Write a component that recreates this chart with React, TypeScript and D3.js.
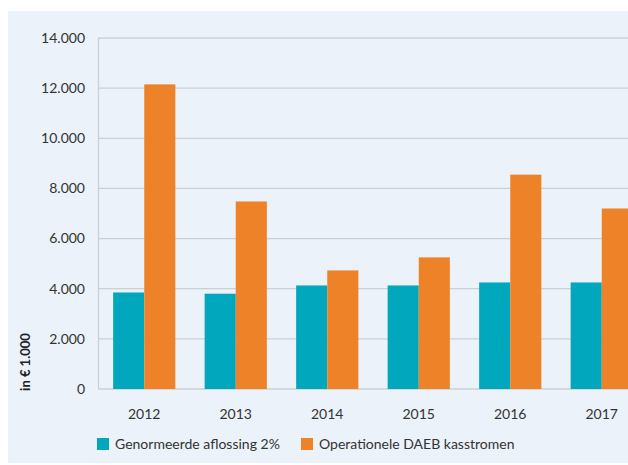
import React from "react";
import * as d3 from "d3";

const years = ["2012", "2013", "2014", "2015", "2016", "2017"];
const aflossing = [3850, 3800, 4130, 4130, 4250, 4250];
const kasstromen = [12150, 7480, 4730, 5250, 8550, 7200];
const yTicks = [0, 2000, 4000, 6000, 8000, 10000, 12000, 14000];
const seriesNames = ["Genormeerde aflossing 2%", "Operationele DAEB kasstromen"];
const colors = ["#00A7BD", "#EE8229"];

const W = 628;
const H = 465;
const FONT = "Lato, 'Open Sans', sans-serif";

export default function App() {
  const left = 98.5;
  const top = 38;
  const bottom = 389;
  const x = d3.scaleBand<string>().domain(years).range([left, left + 6 * 91.5]).paddingInner(0.32).paddingOuter(0.16);
  const y = d3.scaleLinear().domain([0, 14000]).range([bottom, top]);
  const bw = x.bandwidth() / 2;
  const fmt = (v: number) => d3.format(",")(v).replace(/,/g, ".");
  const series = [aflossing, kasstromen];

  return (
    <svg width={W} height={H} style={{ position: "absolute", left: 0, top: 0 }} fontFamily={FONT}>
      <rect x={8} y={11} width={W - 8} height={452} fill="#EBF2F9" />
      {yTicks.map((t) => (
        <g key={t}>
          <line x1={left} x2={W} y1={y(t)} y2={y(t)} stroke="#CDD0D3" strokeWidth={1.3} />
          <text x={85} y={y(t)} dy="0.35em" textAnchor="end" fontSize={14} fill="#333">
            {fmt(t)}
          </text>
        </g>
      ))}
      <line x1={left} x2={left} y1={top} y2={bottom} stroke="#CDD0D3" strokeWidth={1.3} />
      {years.map((yr, i) => (
        <g key={yr}>
          {series.map((s, k) => (
            <rect
              key={k}
              x={(x(yr) as number) + k * bw}
              y={y(s[i])}
              width={bw}
              height={bottom - y(s[i])}
              fill={colors[k]}
            />
          ))}
          <text x={(x(yr) as number) + bw} y={419} textAnchor="middle" fontSize={14} fill="#333">
            {yr}
          </text>
        </g>
      ))}
      <text
        transform={`translate(30,362) rotate(-90)`}
        textAnchor="middle"
        fontSize={13}
        fontWeight="bold"
        fill="#222"
      >
        in € 1.000
      </text>
      {seriesNames.map((n, k) => {
        const lx = k === 0 ? 97 : 301;
        return (
          <g key={n}>
            <rect x={lx} y={438} width={12} height={12} fill={colors[k]} />
            <text x={lx + 18} y={444} dy="0.35em" fontSize={14} fill="#333">
              {n}
            </text>
          </g>
        );
      })}
    </svg>
  );
}
